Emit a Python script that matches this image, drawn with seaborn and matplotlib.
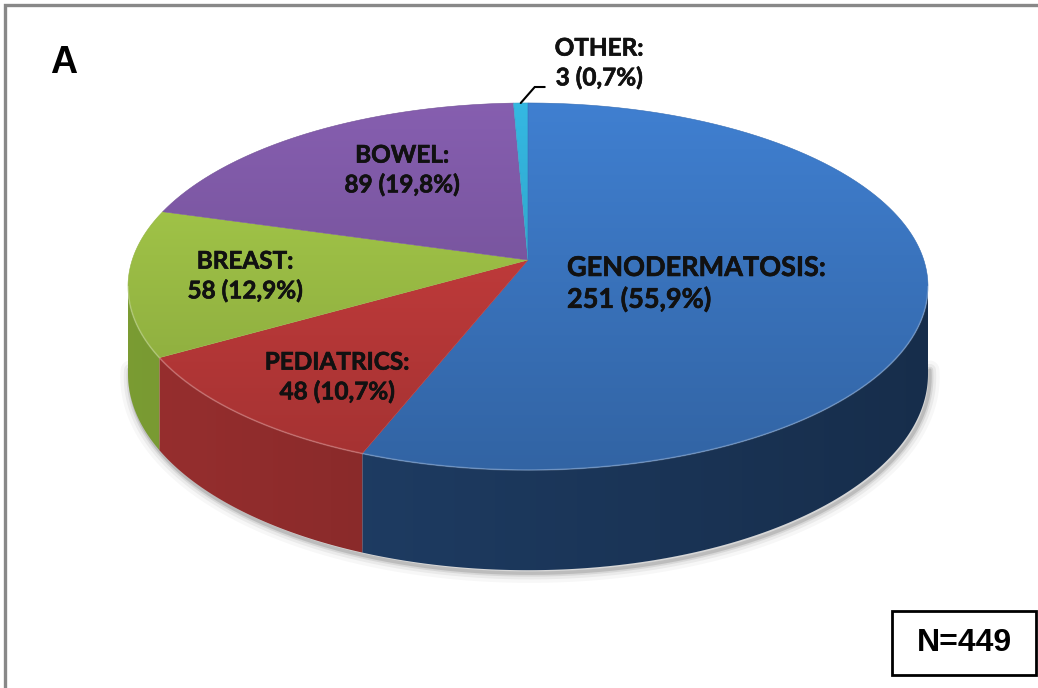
import numpy as np
import matplotlib
matplotlib.use("Agg")
import matplotlib.pyplot as plt
import matplotlib.patheffects as pe
import seaborn as sns
from matplotlib.patches import Polygon, Rectangle

# ---------------- data ----------------
categories = ["GENODERMATOSIS", "PEDIATRICS", "BREAST", "BOWEL", "OTHER"]
counts = [251, 48, 58, 89, 3]
total_label = "N=449"
panel_label = "A"

# ---------------- style ----------------
top_colors = ["#3A74BE", "#BE3A3A", "#9BBD45", "#7A56A0", "#30A8CE"]
side_colors = ["#1E3C63", "#8C2B2B", "#71902F", "#5A3D7A", "#21809E"]
palette_top = sns.color_palette(top_colors)
palette_side = sns.color_palette(side_colors)

sns.set_theme(style="white")
plt.rcParams["font.family"] = ["Lato", "DejaVu Sans"]

W, H = 1038, 688
fig = plt.figure(figsize=(W / 100, H / 100), dpi=100)
ax = fig.add_axes([0, 0, 1, 1])
ax.set_xlim(0, W)
ax.set_ylim(H, 0)
ax.axis("off")

# perspective projection of a tilted disk
CX, CY = 528.0, 260.0
A, B, K, D = 395.8, 179.7, 0.1444, 85.7


def proj(X, Z, h=0.0):
    w = 1 - K * Z
    return CX + A * X / w, CY + (B * Z + h) / w


vals = np.array(counts, dtype=float)
frac = vals / vals.sum()
starts = 90 - 360 * np.concatenate([[0], np.cumsum(frac)[:-1]])
ends = starts - 360 * frac


def arc(a0, a1, n=None):
    n = n or max(int(abs(a1 - a0) * 2), 3)
    t = np.radians(np.linspace(a0, a1, n))
    return np.cos(t), -np.sin(t)


# silhouette limits of the wall (vertical tangents)
ext = np.degrees(np.arcsin(K))
VIS0, VIS1 = -ext, -180 + ext

# ---- soft shadow under the front rim ----
X, Z = arc(VIS0 + 2, VIS1 - 2, 300)
sx, sy = proj(X, Z, D)
for lw, al in [(14, 0.03), (9, 0.05), (5, 0.08), (2.5, 0.12)]:
    ax.plot(sx + 2, sy + 3, color="black", lw=lw, alpha=al,
            solid_capstyle="round", zorder=1)

# ---- outer walls (front, visible part) with horizontal shading ----
xs_img = np.linspace(CX - 420, CX + 420, 400)
Xn = np.clip((xs_img - CX) / A, -1, 1)
shade = (0.92 - 0.16 * Xn)[None, :, None]
for i in range(len(vals)):
    a0 = min(starts[i], VIS0)
    a1 = max(ends[i], VIS1)
    if a0 <= a1:
        continue
    X, Z = arc(a0, a1, max(int((a0 - a1) * 3), 4))
    tx, ty = proj(X, Z)
    bx, by = proj(X, Z, D)
    pts = np.vstack([np.column_stack([tx, ty]), np.column_stack([bx, by])[::-1]])
    poly = Polygon(pts, closed=True, facecolor="none", edgecolor="none")
    ax.add_patch(poly)
    base = np.array(palette_side[i])
    img = np.clip(base[None, None, :] * shade, 0, 1)
    img = np.repeat(img, 2, axis=0)
    im = ax.imshow(img, extent=(CX - 420, CX + 420, CY + 320, CY - 200),
                   origin="upper", aspect="auto", zorder=2, interpolation="bilinear")
    im.set_clip_path(poly)

# ---- top faces with a vertical gradient ----
y_top, y_bot = proj(0, -1)[1], proj(0, 1)[1]
grad = np.linspace(0, 1, 256)[:, None]
for i in range(len(vals)):
    X, Z = arc(starts[i], ends[i])
    px, py = proj(X, Z)
    pts = np.vstack([[CX, CY], np.column_stack([px, py])])
    poly = Polygon(pts, closed=True, facecolor="none", edgecolor="none")
    ax.add_patch(poly)
    base = np.array(palette_top[i])
    light = np.clip(base * 1.10, 0, 1)
    dark = base * 0.86
    img = light[None, None, :] * (1 - grad[:, :, None]) + dark[None, None, :] * grad[:, :, None]
    img = np.repeat(img, 2, axis=1)
    im = ax.imshow(img, extent=(CX - 420, CX + 420, y_bot + 2, y_top - 2),
                   origin="upper", aspect="auto", zorder=3, interpolation="bilinear")
    im.set_clip_path(poly)
    ax.plot(pts[:, 0], pts[:, 1], color=base * 0.95, lw=0.4, zorder=3.5)

# rim highlight on front edge
X, Z = arc(VIS0, VIS1, 300)
hx, hy = proj(X, Z)
ax.plot(hx, hy, color="white", lw=1.2, alpha=0.22, zorder=4)

ax.set_xlim(0, W)
ax.set_ylim(H, 0)

# ---------------- labels ----------------
def lab(i):
    pct = f"{100 * frac[i]:.1f}".replace(".", ",")
    return f"{categories[i]}:\n{counts[i]} ({pct}%)"

bold = [pe.withStroke(linewidth=0.45, foreground="#111111")]
fs = 17.5
common = dict(va="center", fontweight="bold", color="#111111",
              linespacing=1.32, zorder=6, path_effects=bold)
ax.text(567, 284, lab(0), ha="left", fontsize=19.5, **common)
ax.text(337, 377, lab(1), ha="center", fontsize=fs, multialignment="center", **common)
ax.text(245, 276, lab(2), ha="center", fontsize=fs, multialignment="center", **common)
ax.text(402, 170, lab(3), ha="center", fontsize=fs, multialignment="center", **common)
ax.text(599, 63, lab(4), ha="center", fontsize=fs, multialignment="center", **common)

# leader line for the tiny slice
mid4 = (starts[4] + ends[4]) / 2
lx, ly = proj(np.cos(np.radians(mid4)), -np.sin(np.radians(mid4)))
ax.plot([lx, lx + 14, lx + 24], [ly, ly - 16, ly - 16], color="black",
        lw=1.5, zorder=6, solid_joinstyle="miter")

# panel letter
ax.text(50, 73, panel_label, ha="left", va="baseline", fontsize=27,
        fontweight="bold", family=["Liberation Sans", "DejaVu Sans"], color="black")

# N box
ax.add_patch(Rectangle((892, 611), 144, 64, facecolor="white", edgecolor="black",
                       lw=2, zorder=6))
ax.text(964, 643, total_label, ha="center", va="center", fontsize=23,
        fontweight="bold", family=["Liberation Sans", "DejaVu Sans"], color="black",
        zorder=7)

# outer grey frame (left and top edges visible)
ax.plot([5, 5, W + 5], [H + 5, 4.5, 4.5], color="#888888", lw=2.4,
        solid_joinstyle="miter", zorder=8)

fig.savefig("out.png", dpi=100)
